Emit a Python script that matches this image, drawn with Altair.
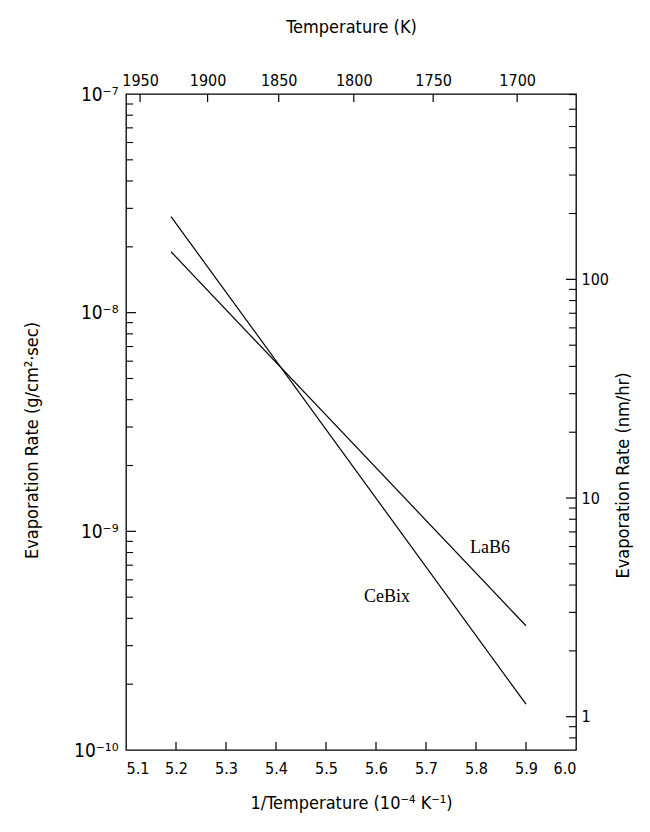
import altair as alt
import pandas as pd

# ---------------- data ----------------
materials = ["LaB6", "LaB6", "CeBix", "CeBix"]
inv_temp = [5.19, 5.90, 5.19, 5.90]            # 1/T, 10^-4 K^-1
evap_rate = [1.9e-8, 3.7e-10, 2.75e-8, 1.62e-10]  # g/cm^2·sec

label_names = ["LaB6", "CeBix"]
label_x = [5.828, 5.622]
label_y = [8.4e-10, 5.0e-10]

x_ticks = [5.1, 5.2, 5.3, 5.4, 5.5, 5.6, 5.7, 5.8, 5.9, 6.0]
temps_k = [1950, 1900, 1850, 1800, 1750, 1700]
left_major = [1e-10, 1e-9, 1e-8, 1e-7]
left_major_text = ["10⁻¹⁰", "10⁻⁹", "10⁻⁸", "10⁻⁷"]
right_major_nm = [1, 10, 100]
right_minor_nm = [0.8, 0.9, 2, 3, 4, 5, 6, 7, 8, 9, 20, 30, 40, 50, 60, 70, 80, 90,
                  200, 300, 400, 500, 600, 700]
G_PER_NMHR = 1.42e-10  # g/cm^2·sec corresponding to 1 nm/hr

W, H = 450, 656
FONT = "Liberation Sans Narrow, DejaVu Sans Condensed, DejaVu Sans, sans-serif"

lines_df = pd.DataFrame({"material": materials, "inv_t": inv_temp, "rate": evap_rate})
labels_df = pd.DataFrame({"name": label_names, "inv_t": label_x, "rate": label_y})
bottom_df = pd.DataFrame({"inv_t": x_ticks[1:-1]})
top_df = pd.DataFrame({"inv_t": [1e4 / t for t in temps_k]})
left_minor = [k * 10.0 ** e for e in (-10, -9, -8) for k in range(2, 10)]
left_major_df = pd.DataFrame({"rate": left_major[1:-1]})
left_minor_df = pd.DataFrame({"rate": left_minor})
right_major_df = pd.DataFrame({"rate": [v * G_PER_NMHR for v in right_major_nm]})
right_minor_df = pd.DataFrame({"rate": [v * G_PER_NMHR for v in right_minor_nm]})

xscale = alt.Scale(domain=[5.1, 6.0], nice=False, zero=False)
yscale = alt.Scale(type="log", domain=[1e-10, 1e-7], nice=False)

left_expr = " : ".join(
    f"datum.value < {v * 3:.3g} ? '{t}'" for v, t in zip(left_major[:-1], left_major_text[:-1])
) + f" : '{left_major_text[-1]}'"

lines = alt.Chart(lines_df).mark_line(color="black", strokeWidth=1.2).encode(
    x=alt.X("inv_t:Q", scale=xscale,
            axis=alt.Axis(orient="bottom", values=x_ticks, format=".1f", ticks=False,
                          domain=False, grid=False, labelPadding=10,
                          title="1/Temperature (10⁻⁴ K⁻¹)", titlePadding=18)),
    y=alt.Y("rate:Q", scale=yscale,
            axis=alt.Axis(orient="left", values=left_major, labelExpr=left_expr,
                          ticks=False, domain=False, grid=False, labelPadding=8,
                          labelFontSize=19,
                          title="Evaporation Rate (g/cm²·sec)", titlePadding=32,
                          titleY=346)),
    detail="material:N",
)

texts = alt.Chart(labels_df).mark_text(font="Liberation Serif", fontSize=18, color="black").encode(
    x=alt.X("inv_t:Q", scale=xscale, axis=None),
    y=alt.Y("rate:Q", scale=yscale, axis=None),
    text="name:N",
)

bottom_ticks = alt.Chart(bottom_df).mark_rule(color="black", strokeWidth=1.2).encode(
    x=alt.X("inv_t:Q", scale=xscale, axis=None),
    y=alt.value(H), y2=alt.value(H - 8),
)

top_ticks = alt.Chart(top_df).mark_rule(color="black", strokeWidth=1.2).encode(
    x=alt.X("inv_t:Q", scale=xscale,
            axis=alt.Axis(orient="top", values=[1e4 / t for t in temps_k],
                          labelExpr="format(10000 / datum.value, '.0f')",
                          ticks=False, domain=False, grid=False, labelPadding=6,
                          title="Temperature (K)", titlePadding=36)),
    y=alt.value(0), y2=alt.value(8),
)

left_major_ticks = alt.Chart(left_major_df).mark_rule(color="black", strokeWidth=1.2).encode(
    y=alt.Y("rate:Q", scale=yscale, axis=None),
    x=alt.value(0), x2=alt.value(10),
)
left_minor_ticks = alt.Chart(left_minor_df).mark_rule(color="black", strokeWidth=1.1).encode(
    y=alt.Y("rate:Q", scale=yscale, axis=None),
    x=alt.value(0), x2=alt.value(7),
)

right_major_ticks = alt.Chart(right_major_df).mark_rule(color="black", strokeWidth=1.2).encode(
    y=alt.Y("rate:Q", scale=yscale,
            axis=alt.Axis(orient="right", values=[v * G_PER_NMHR for v in right_major_nm],
                          labelExpr=f"format(datum.value / {G_PER_NMHR}, '.0f')",
                          ticks=False, domain=False, grid=False, labelPadding=5,
                          title="Evaporation Rate (nm/hr)", titlePadding=24,
                          titleAngle=270, titleBaseline="bottom",
                          titleY=381)),
    x=alt.value(W), x2=alt.value(W - 10),
)
right_minor_ticks = alt.Chart(right_minor_df).mark_rule(color="black", strokeWidth=1.1).encode(
    y=alt.Y("rate:Q", scale=yscale, axis=None),
    x=alt.value(W), x2=alt.value(W - 7),
)

chart = alt.layer(
    lines, texts, bottom_ticks, top_ticks,
    left_major_ticks, left_minor_ticks, right_major_ticks, right_minor_ticks,
).resolve_axis(x="independent", y="independent").properties(
    width=W, height=H,
    padding={"left": 118, "top": 86, "right": 66, "bottom": 70},
    autosize=alt.AutoSizeParams(type="none"),
    background="white",
).configure_view(
    stroke="black", strokeWidth=1.3,
).configure_axis(
    labelFont=FONT, titleFont=FONT, labelColor="black", titleColor="black",
    labelFontSize=16, titleFontSize=18, titleFontWeight="normal",
)

chart.save("out.html", embed_options={"renderer": "svg", "actions": False})
